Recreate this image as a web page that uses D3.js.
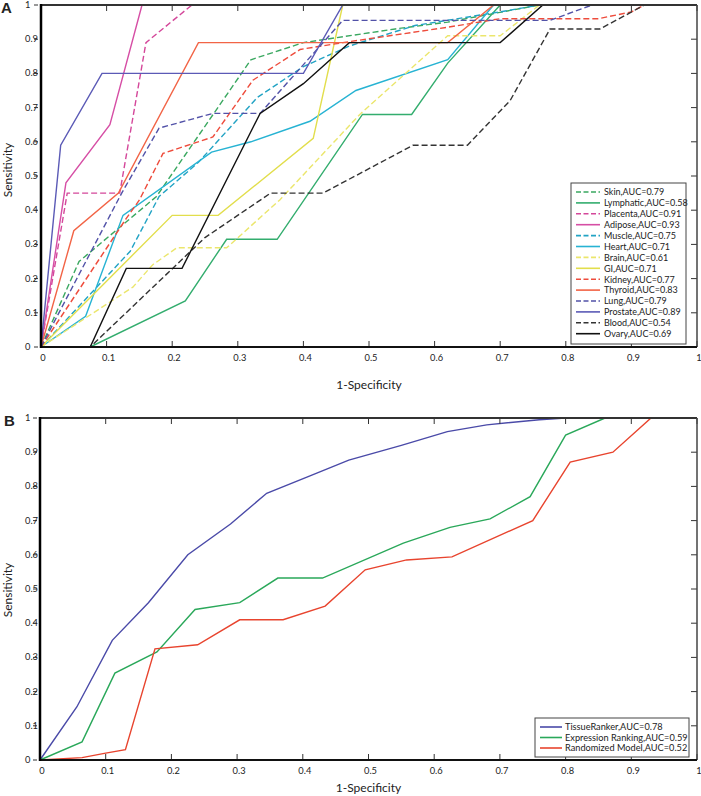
<!DOCTYPE html>
<html>
<head>
<meta charset="utf-8">
<script src="https://cdnjs.cloudflare.com/ajax/libs/d3/7.8.5/d3.min.js"></script>
<style>
  body { margin: 0; background: #fff; }
  svg text { font-family: Lato, "Open Sans", sans-serif; fill: #222; }
</style>
</head>
<body>
<script>
// ---- panel A data: ROC points [1-specificity, sensitivity] ----
var skin      = [[0,0],[0.058,0.25],[0.176,0.44],[0.32,0.84],[0.40,0.89],[0.54,0.93],[0.62,0.95],[0.76,1],[1,1]];
var lymphatic = [[0,0],[0.075,0],[0.22,0.135],[0.283,0.315],[0.36,0.315],[0.49,0.68],[0.565,0.68],[0.62,0.83],[0.70,1],[1,1]];
var placenta  = [[0,0],[0.04,0.45],[0.12,0.45],[0.16,0.89],[0.23,1],[1,1]];
var adipose   = [[0,0],[0.038,0.48],[0.105,0.65],[0.154,1],[1,1]];
var muscle    = [[0,0],[0.136,0.28],[0.18,0.44],[0.24,0.54],[0.33,0.73],[0.40,0.82],[0.47,0.88],[0.57,0.94],[0.70,0.98],[0.76,1],[1,1]];
var heart     = [[0,0],[0.068,0.09],[0.125,0.385],[0.26,0.57],[0.32,0.60],[0.41,0.66],[0.48,0.75],[0.62,0.84],[0.69,1],[1,1]];
var brain     = [[0,0],[0.14,0.175],[0.17,0.24],[0.207,0.29],[0.283,0.29],[0.364,0.43],[0.486,0.68],[0.62,0.91],[0.70,0.91],[0.76,1],[1,1]];
var gi        = [[0,0],[0.2,0.385],[0.27,0.385],[0.415,0.61],[0.46,1],[1,1]];
var kidney    = [[0,0],[0.13,0.376],[0.15,0.43],[0.186,0.566],[0.262,0.614],[0.323,0.78],[0.395,0.87],[0.46,0.89],[0.62,0.935],[0.70,0.96],[0.85,0.96],[0.90,0.98],[0.92,1],[1,1]];
var thyroid   = [[0,0],[0.05,0.34],[0.118,0.45],[0.24,0.89],[0.62,0.89],[0.69,1],[1,1]];
var lung      = [[0,0],[0.123,0.45],[0.18,0.64],[0.262,0.683],[0.334,0.683],[0.46,0.955],[0.776,0.955],[0.84,1],[1,1]];
var prostate  = [[0,0],[0.03,0.59],[0.093,0.8],[0.40,0.8],[0.46,1],[1,1]];
var blood     = [[0,0],[0.075,0],[0.25,0.32],[0.35,0.45],[0.43,0.45],[0.567,0.59],[0.65,0.59],[0.715,0.72],[0.776,0.93],[0.852,0.93],[0.92,1],[1,1]];
var ovary     = [[0,0],[0.075,0],[0.13,0.23],[0.215,0.23],[0.334,0.683],[0.40,0.77],[0.47,0.89],[0.70,0.89],[0.765,1],[1,1]];

var tissueNames = ["Skin","Lymphatic","Placenta","Adipose","Muscle","Heart","Brain","GI","Kidney","Thyroid","Lung","Prostate","Blood","Ovary"];
var tissueAUC   = ["0.79","0.58","0.91","0.93","0.75","0.71","0.61","0.71","0.77","0.83","0.79","0.89","0.54","0.69"];
var tissueCurves = [skin, lymphatic, placenta, adipose, muscle, heart, brain, gi, kidney, thyroid, lung, prostate, blood, ovary];
var tissueColors = ["#3aa860","#33ad6e","#d4479a","#d64ea5","#22a3c4","#27b3d3","#ebe66c","#e2de4c","#ee4c3c","#f26446","#5252a8","#5b5ab6","#333333","#111111"];
var tissueDashed = [true,false,true,false,true,false,true,false,true,false,true,false,true,false];

// ---- panel B data ----
var tissueRanker = [[0,0],[0.056,0.155],[0.11,0.35],[0.165,0.46],[0.225,0.6],[0.29,0.69],[0.345,0.78],[0.41,0.83],[0.47,0.877],[0.55,0.92],[0.62,0.96],[0.68,0.98],[0.76,0.995],[0.8,1],[1,1]];
var exprRanking  = [[0,0],[0.064,0.053],[0.114,0.254],[0.178,0.316],[0.236,0.44],[0.304,0.46],[0.362,0.532],[0.43,0.532],[0.553,0.634],[0.624,0.68],[0.685,0.705],[0.746,0.77],[0.80,0.95],[0.86,1],[1,1]];
var randomModel  = [[0,0],[0.064,0.007],[0.1,0.02],[0.13,0.03],[0.175,0.325],[0.24,0.337],[0.304,0.41],[0.37,0.41],[0.434,0.45],[0.495,0.556],[0.558,0.585],[0.627,0.594],[0.75,0.70],[0.807,0.871],[0.872,0.90],[0.93,1],[1,1]];

var modelNames  = ["TissueRanker","Expression Ranking","Randomized Model"];
var modelAUC    = ["0.78","0.59","0.52"];
var modelCurves = [tissueRanker, exprRanking, randomModel];
var modelColors = ["#4a4aa8","#2aa85a","#e8442e"];

var tickValues = [0,0.1,0.2,0.3,0.4,0.5,0.6,0.7,0.8,0.9,1];
var tickLabels = ["0","0.1","0.2","0.3","0.4","0.5","0.6","0.7","0.8","0.9","1"];

var w = 701, h = 796;
var svg = d3.select("body").append("svg").attr("width", w).attr("height", h);

function drawPanel(opt) {
    var x = d3.scaleLinear().domain([0,1]).range([opt.x0, opt.x1]);
    var y = d3.scaleLinear().domain([0,1]).range([opt.y0, opt.y1]);
    var g = svg.append("g");

    var line = d3.line().x(function(d){ return x(d[0]); }).y(function(d){ return y(d[1]); });

    opt.curves.forEach(function(c, i) {
        g.append("path")
            .attr("d", line(c))
            .attr("fill", "none")
            .attr("stroke", opt.colors[i])
            .attr("stroke-width", 1.4)
            .attr("stroke-dasharray", opt.dashed && opt.dashed[i] ? "6,3" : null);
    });

    // inward ticks on bottom, top and right
    var ticks = g.append("g").attr("stroke", "#333").attr("stroke-width", 1);
    tickValues.forEach(function(v) {
        ticks.append("line").attr("x1", x(v)).attr("x2", x(v)).attr("y1", opt.y0).attr("y2", opt.y0 - 6);
        ticks.append("line").attr("x1", x(v)).attr("x2", x(v)).attr("y1", opt.y1).attr("y2", opt.y1 + 6);
        ticks.append("line").attr("x1", opt.x1).attr("x2", opt.x1 - 6).attr("y1", y(v)).attr("y2", y(v));
        ticks.append("line").attr("x1", opt.x0 - 7).attr("x2", opt.x0 - 3).attr("y1", y(v)).attr("y2", y(v));
    });

    // frame
    g.append("line").attr("x1", opt.x0).attr("x2", opt.x1).attr("y1", opt.y1).attr("y2", opt.y1).attr("stroke", "#333").attr("stroke-width", 2);
    g.append("line").attr("x1", opt.x1).attr("x2", opt.x1).attr("y1", opt.y1).attr("y2", opt.y0).attr("stroke", "#444").attr("stroke-width", 1.5);
    g.append("line").attr("x1", opt.x0).attr("x2", opt.x1).attr("y1", opt.y0).attr("y2", opt.y0).attr("stroke", "#111").attr("stroke-width", 2);
    g.append("line").attr("x1", opt.x0).attr("x2", opt.x0).attr("y1", opt.y1 - 1).attr("y2", opt.y0 + 1).attr("stroke", "#000").attr("stroke-width", 2.5);

    // tick labels
    g.selectAll(".yl").data(tickValues).enter().append("text")
        .attr("x", 25).attr("y", function(d){ return y(d) + 3; })
        .attr("font-size", 9.3).text(function(d, i){ return tickLabels[i]; });
    g.selectAll(".xl").data(tickValues).enter().append("text")
        .attr("x", function(d){ return x(d) + 2; }).attr("y", opt.y0 + 14)
        .attr("text-anchor", "middle").attr("font-size", 9.3).text(function(d, i){ return tickLabels[i]; });

    // axis titles
    g.append("text").attr("x", (opt.x0 + opt.x1) / 2).attr("y", opt.y0 + opt.titleDy)
        .attr("text-anchor", "middle").attr("font-size", 12).text("1-Specificity");
    g.append("text").attr("transform", "translate(12," + opt.sensY + ") rotate(-90)")
        .attr("text-anchor", "middle").attr("font-size", 12).text("Sensitivity");
    g.append("text").attr("x", opt.letterX).attr("y", opt.y1 + 8)
        .attr("font-size", 15).attr("font-weight", "bold")
        .style("font-family", "Arial, 'Liberation Sans', sans-serif").text(opt.letter);

    // legend
    var L = opt.legend;
    var lg = g.append("g");
    lg.append("rect").attr("x", L.x).attr("y", L.y).attr("width", L.w).attr("height", L.h)
        .attr("fill", "#fff").attr("stroke", "#444").attr("stroke-width", 1);
    opt.names.forEach(function(n, i) {
        var yy = L.y + L.first + i * L.step;
        lg.append("line").attr("x1", L.x + L.lx1).attr("x2", L.x + L.lx2).attr("y1", yy).attr("y2", yy)
            .attr("stroke", opt.colors[i]).attr("stroke-width", 1.6)
            .attr("stroke-dasharray", opt.dashed && opt.dashed[i] ? "5,2.5" : null);
        lg.append("text").attr("x", L.x + L.tx).attr("y", yy + 3.3)
            .attr("font-size", L.fs).text(n + ",AUC=" + opt.auc[i]);
    });
}

drawPanel({
    x0: 41, x1: 697, y0: 347, y1: 5,
    curves: tissueCurves, colors: tissueColors, dashed: tissueDashed,
    names: tissueNames, auc: tissueAUC,
    sensY: 170, letter: "A", letterX: 1, titleDy: 42,
    legend: { x: 571, y: 183, w: 115, h: 161, first: 9, step: 10.9, lx1: 5, lx2: 29, tx: 33, fs: 9 }
});

drawPanel({
    x0: 40, x1: 697, y0: 760, y1: 418,
    curves: modelCurves, colors: modelColors, dashed: null,
    names: modelNames, auc: modelAUC,
    sensY: 590, letter: "B", letterX: 4, titleDy: 32,
    legend: { x: 535, y: 718, w: 154, h: 39, first: 9, step: 10.5, lx1: 5, lx2: 27, tx: 30, fs: 9.2 }
});
</script>
</body>
</html>
